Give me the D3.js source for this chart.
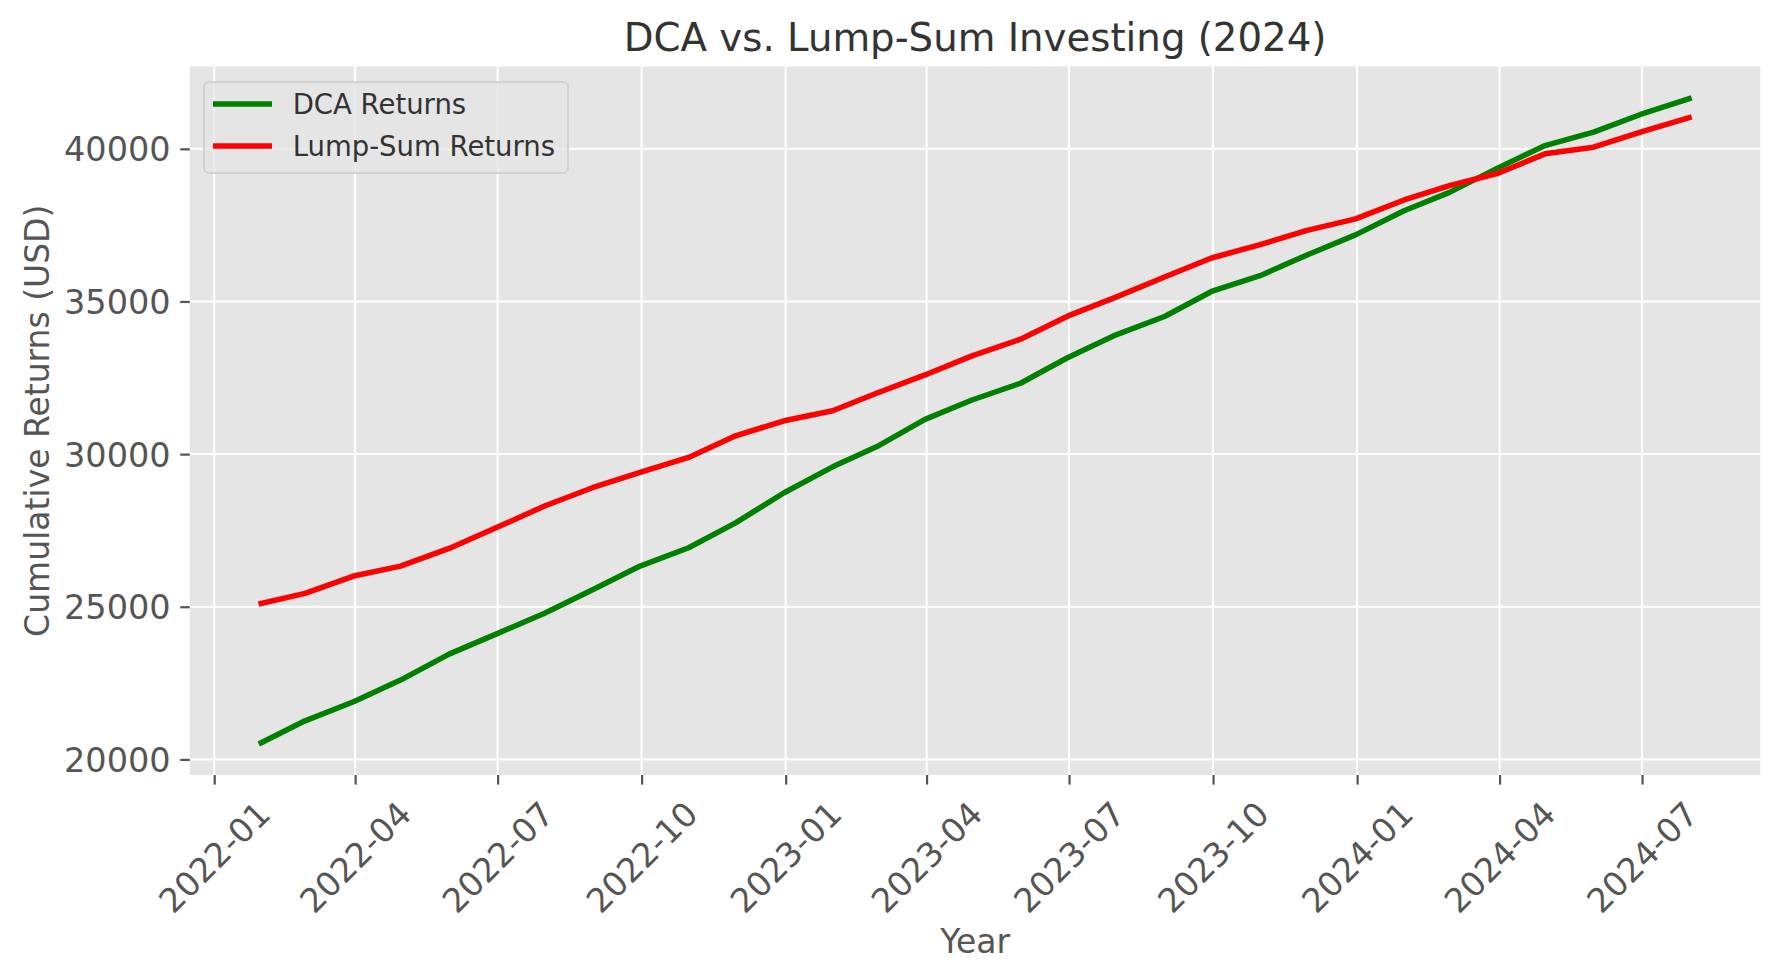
<!DOCTYPE html>
<html>
<head>
<meta charset="utf-8">
<script src="https://cdn.jsdelivr.net/npm/d3@7"></script>
<style>
  html, body { margin: 0; padding: 0; background: #ffffff; }
  svg { display: block; font-family: "DejaVu Sans", sans-serif; }
</style>
</head>
<body>
<svg id="chart" width="1779" height="980"></svg>
<script>
// ---- data ----
const dates = [
  "2022-01-31","2022-02-28","2022-03-31","2022-04-30","2022-05-31","2022-06-30",
  "2022-07-31","2022-08-31","2022-09-30","2022-10-31","2022-11-30","2022-12-31",
  "2023-01-31","2023-02-28","2023-03-31","2023-04-30","2023-05-31","2023-06-30",
  "2023-07-31","2023-08-31","2023-09-30","2023-10-31","2023-11-30","2023-12-31",
  "2024-01-31","2024-02-29","2024-03-31","2024-04-30","2024-05-31","2024-06-30",
  "2024-07-31"
];
const dcaReturns = [
  20544, 21264, 21887, 22597, 23449, 24104, 24790, 25568, 26333, 26934, 27750, 28735,
  29583, 30240, 31139, 31773, 32321, 33156, 33907, 34508, 35328, 35843, 36525, 37182,
  37974, 38575, 39376, 40108, 40545, 41126, 41642
];
const lumpSumReturns = [
  25111, 25439, 26006, 26333, 26911, 27586, 28300, 28907, 29399, 29892, 30600, 31092,
  31422, 31993, 32594, 33217, 33765, 34519, 35144, 35801, 36424, 36861, 37331, 37705,
  38326, 38795, 39199, 39836, 40053, 40545, 41018
];
const seriesNames = ["DCA Returns", "Lump-Sum Returns"];
const seriesColors = ["#008000", "#ff0000"];
const xTickLabels = ["2022-01","2022-04","2022-07","2022-10","2023-01","2023-04",
                     "2023-07","2023-10","2024-01","2024-04","2024-07"];
const yTickValues = [20000, 25000, 30000, 35000, 40000];
const titleText = "DCA vs. Lump-Sum Investing (2024)";
const xLabelText = "Year";
const yLabelText = "Cumulative Returns (USD)";

// ---- layout ----
const L = 189.8, R = 1760.4, T = 66.5, B = 775;
const svg = d3.select("#chart");
const parseDay = d3.utcParse("%Y-%m-%d");
const parseMonth = d3.utcParse("%Y-%m");
const xs = dates.map(parseDay);

function padded(ext) {
  const span = ext[1] - ext[0];
  return [ext[0] - span * 0.05, ext[1] + span * 0.05];
}
const xExt = d3.extent(xs).map(d => +d);
const xDom = padded(xExt).map(v => new Date(v));
const yDom = padded(d3.extent(dcaReturns.concat(lumpSumReturns)));

const x = d3.scaleUtc().domain(xDom).range([L, R]);
const y = d3.scaleLinear().domain(yDom).range([B, T]);

// axes background
svg.append("rect").attr("x", L).attr("y", T).attr("width", R - L).attr("height", B - T)
  .attr("fill", "#e5e5e5");

const xTicks = xTickLabels.map(parseMonth);

// grid
const grid = svg.append("g");
grid.selectAll("line.gx").data(xTicks).join("line")
  .attr("x1", d => x(d)).attr("x2", d => x(d)).attr("y1", T).attr("y2", B)
  .attr("stroke", "#ffffff").attr("stroke-width", 2);
grid.selectAll("line.gy").data(yTickValues).join("line")
  .attr("x1", L).attr("x2", R).attr("y1", d => y(d)).attr("y2", d => y(d))
  .attr("stroke", "#ffffff").attr("stroke-width", 2);

// x axis
const xAxis = d3.axisBottom(x).tickValues(xTicks).tickSize(9.6).tickPadding(0)
  .tickFormat(d3.utcFormat("%Y-%m"));
const gx = svg.append("g").attr("transform", `translate(0,${B})`).call(xAxis);
gx.select(".domain").remove();
gx.selectAll(".tick line").attr("stroke", "#555555").attr("stroke-width", 2.2);
gx.selectAll(".tick text").each(function() {
  const t = d3.select(this);
  t.attr("font-size", 33.5).attr("fill", "#555555").attr("font-family", "DejaVu Sans")
   .attr("text-anchor", "middle").attr("dominant-baseline", "central")
   .attr("y", 0).attr("dy", null);
  const bb = this.getBBox();
  const H = (bb.width + bb.height) / Math.SQRT2;
  const top = 9.6 + 9.6;
  t.attr("transform", `translate(0,${top + H / 2}) rotate(-45)`);
});

// y axis
const yAxis = d3.axisLeft(y).tickValues(yTickValues).tickSize(9.6).tickPadding(9.6)
  .tickFormat(d3.format("d"));
const gy = svg.append("g").attr("transform", `translate(${L},0)`).call(yAxis);
gy.select(".domain").remove();
gy.selectAll(".tick line").attr("stroke", "#555555").attr("stroke-width", 2.2);
gy.selectAll(".tick text").attr("font-size", 33.5).attr("fill", "#555555")
  .attr("font-family", "DejaVu Sans").attr("dy", "0.36em");

// lines
const series = [dcaReturns, lumpSumReturns];
const line = d3.line().x((d, i) => x(xs[i])).y(d => y(d));
svg.append("g").selectAll("path").data(series).join("path")
  .attr("d", d => line(d))
  .attr("fill", "none")
  .attr("stroke", (d, i) => seriesColors[i])
  .attr("stroke-width", 5.5)
  .attr("stroke-linecap", "square")
  .attr("stroke-linejoin", "round");

// title & labels
svg.append("text").attr("x", (L + R) / 2).attr("y", 37.5)
  .attr("text-anchor", "middle").attr("dominant-baseline", "central")
  .attr("font-size", 38.7).attr("fill", "#333333").text(titleText);
svg.append("text").attr("x", (L + R) / 2).attr("y", 941)
  .attr("text-anchor", "middle").attr("dominant-baseline", "central")
  .attr("font-size", 33).attr("fill", "#555555").text(xLabelText);
svg.append("text").attr("transform", `translate(37.5,${(T + B) / 2}) rotate(-90)`)
  .attr("text-anchor", "middle").attr("dominant-baseline", "central")
  .attr("font-size", 33).attr("fill", "#555555").text(yLabelText);

// legend
const lg = svg.append("g");
lg.append("rect").attr("x", 204).attr("y", 82).attr("width", 364).attr("height", 91)
  .attr("rx", 5).attr("ry", 5)
  .attr("fill", "#e5e5e5").attr("fill-opacity", 0.8)
  .attr("stroke", "#cccccc").attr("stroke-opacity", 0.8).attr("stroke-width", 2);
const rowY = [104, 146];
seriesNames.forEach((name, i) => {
  lg.append("line").attr("x1", 213).attr("x2", 272).attr("y1", rowY[i]).attr("y2", rowY[i])
    .attr("stroke", seriesColors[i]).attr("stroke-width", 5.5);
  lg.append("text").attr("x", 292.7).attr("y", rowY[i])
    .attr("dominant-baseline", "central").attr("font-size", 27.5)
    .attr("fill", "#333333").text(name);
});
</script>
</body>
</html>
